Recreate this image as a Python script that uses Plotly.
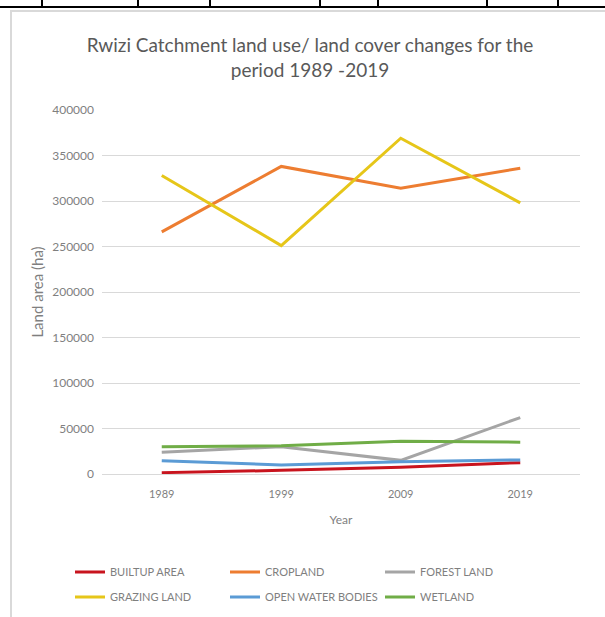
import plotly.graph_objects as go

years = ["1989", "1999", "2009", "2019"]
builtup = [1500, 4000, 7500, 12500]
cropland = [266000, 338000, 314000, 336000]
forest = [24000, 30000, 15000, 62000]
grazing = [328000, 251000, 369000, 298000]
water = [14500, 10000, 13500, 15500]
wetland = [30000, 31000, 36000, 35000]

series = [
    ("BUILTUP AREA", builtup, "#C8141E", "legend"),
    ("CROPLAND", cropland, "#ED7D31", "legend"),
    ("FOREST LAND", forest, "#A5A5A5", "legend"),
    ("GRAZING LAND", grazing, "#E6C619", "legend2"),
    ("OPEN WATER BODIES", water, "#5B9BD5", "legend2"),
    ("WETLAND", wetland, "#70AD47", "legend2"),
]

W, H = 605, 617
L, R, T, B = 102, 25, 110, 143
pw = W - L - R
ph = H - T - B

def px(x):
    return (x - L) / pw

def py(y):
    return (H - B - y) / ph

fig = go.Figure()
for name, vals, color, lg in series:
    fig.add_trace(go.Scatter(
        x=years, y=vals, name=name, mode="lines",
        line=dict(color=color, width=3),
        legend=lg,
    ))

grey = "#7F7F7F"
fig.update_layout(
    width=W, height=H,
    margin=dict(l=L, r=R, t=T, b=B, autoexpand=False),
    paper_bgcolor="white", plot_bgcolor="white",
    font=dict(family="Lato, Open Sans, sans-serif", color=grey, size=11),
    title=dict(
        text="Rwizi Catchment land use/ land cover changes for the<br>period 1989 -2019",
        x=310 / W, xanchor="center", xref="container",
        y=1 - 52 / H, yanchor="top", yref="container",
        font=dict(family="Lato, Open Sans, sans-serif", size=19, color="#595959"),
    ),
    xaxis=dict(
        type="category", range=[-0.5, 3.5],
        showgrid=False, showline=False, zeroline=False,
        ticks="", ticklabelstandoff=12,
        tickfont=dict(size=11, color=grey),
        title=dict(text="Year", standoff=16, font=dict(size=12, color=grey)),
    ),
    yaxis=dict(
        range=[0, 400000], dtick=50000, tickformat="d",
        showgrid=True, gridcolor="#D9D9D9", gridwidth=1,
        zeroline=True, zerolinecolor="#D9D9D9", zerolinewidth=1,
        showline=False, ticks="", ticklabelstandoff=7,
        tickfont=dict(size=12, color=grey),
        title=dict(text="Land area (ha)", standoff=4, font=dict(size=15, color=grey)),
    ),
    legend=dict(
        orientation="h", x=px(70), y=py(572), xanchor="left", yanchor="middle",
        entrywidth=110, entrywidthmode="pixels",
        font=dict(size=11, color=grey), bgcolor="rgba(0,0,0,0)",
    ),
    legend2=dict(
        orientation="h", x=px(70), y=py(597), xanchor="left", yanchor="middle",
        entrywidth=110, entrywidthmode="pixels",
        font=dict(size=11, color=grey), bgcolor="rgba(0,0,0,0)",
    ),
)

# chart frame (light grey border) and fragment of table above
fig.add_shape(type="rect", xref="paper", yref="paper",
              x0=px(11), x1=px(640), y0=py(660), y1=py(11),
              line=dict(color="#D9D9D9", width=2), fillcolor="rgba(0,0,0,0)", layer="below")
fig.add_shape(type="line", xref="paper", yref="paper",
              x0=px(0), x1=px(605), y0=py(7), y1=py(7),
              line=dict(color="black", width=2))
for xv in [42, 138, 210, 320, 378, 487, 558]:
    fig.add_shape(type="line", xref="paper", yref="paper",
                  x0=px(xv), x1=px(xv), y0=py(-5), y1=py(7),
                  line=dict(color="black", width=2))

fig.write_html("out.html")
